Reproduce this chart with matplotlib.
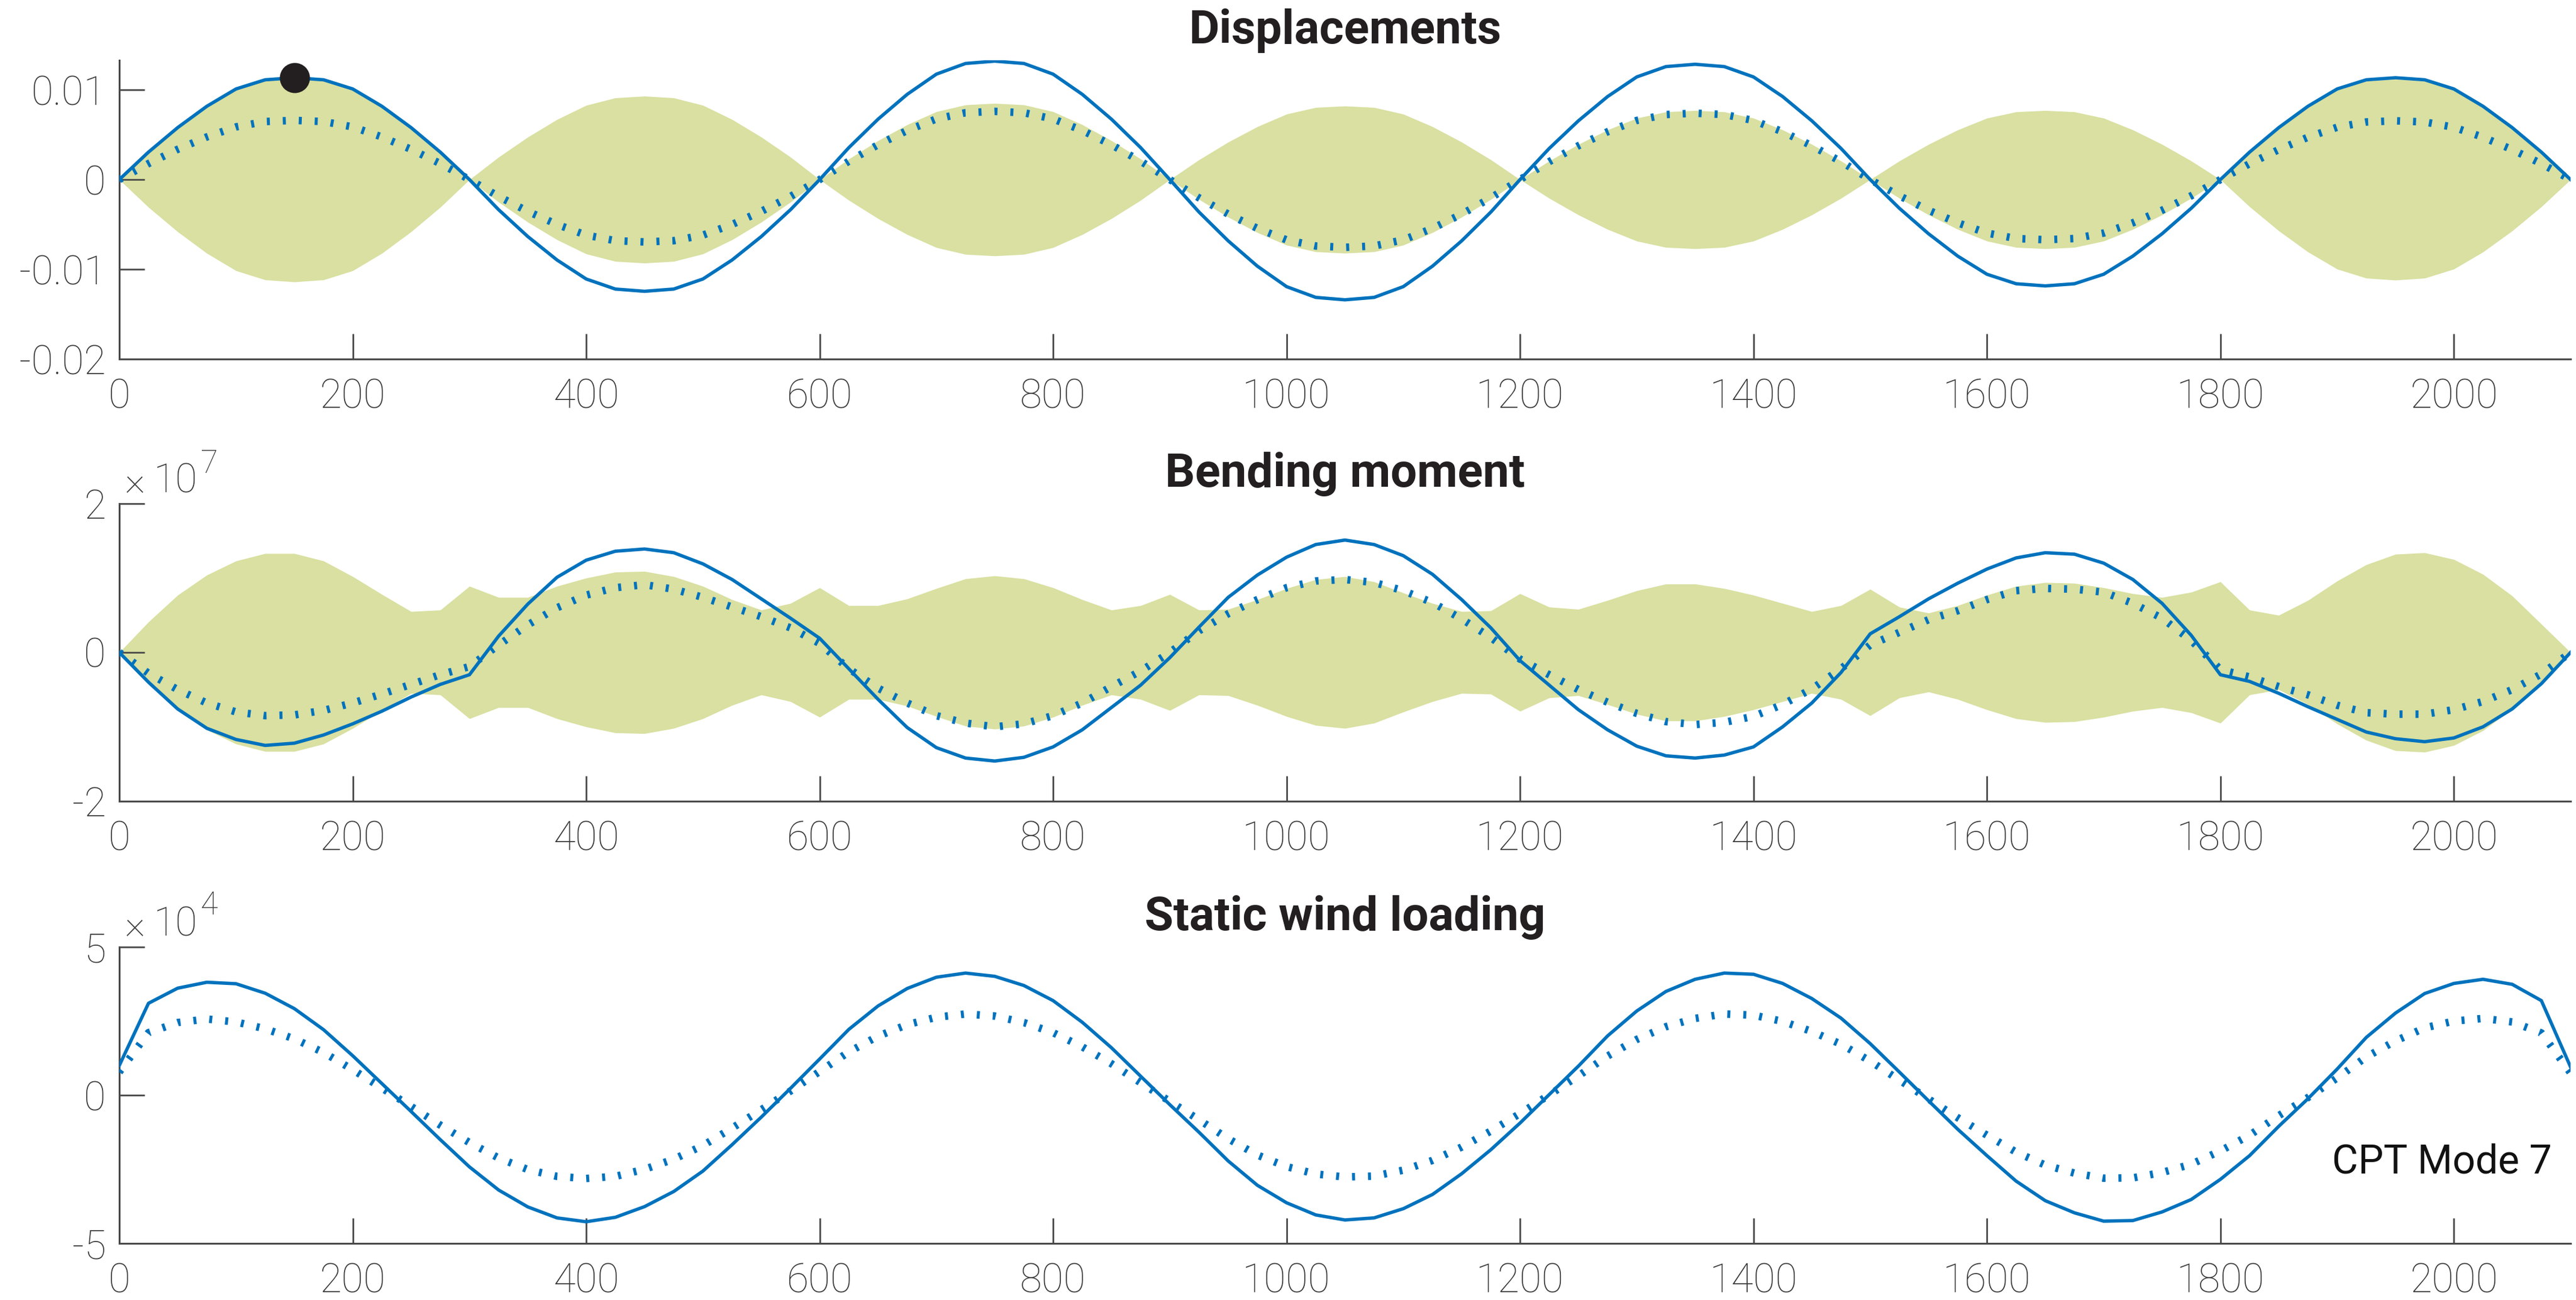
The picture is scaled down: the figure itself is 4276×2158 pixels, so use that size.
import numpy as np
import matplotlib
matplotlib.use("Agg")
import matplotlib.pyplot as plt
from matplotlib import font_manager as fm

plt.rcParams["axes.unicode_minus"] = False

# ---------------------------------------------------------------- data
# Stations along the span (every 25 m)
station = np.arange(0, 2101, 25)

# Displacements (mm): total peak response, static part, RMS envelope
disp_total_mm = [
    0.0, 3.06, 5.79, 8.17, 10.10, 11.12, 11.35, 11.12, 10.10, 8.17, 5.79, 3.06, 0.0,
    -3.36, -6.35, -8.96, -11.08, -12.20, -12.45, -12.20, -11.08, -8.96, -6.35, -3.36, 0.0,
    3.56, 6.73, 9.50, 11.75, 12.94, 13.20, 12.94, 11.75, 9.50, 6.73, 3.56, 0.0,
    -3.62, -6.83, -9.65, -11.93, -13.13, -13.40, -13.13, -11.93, -9.65, -6.83, -3.62, 0.0,
    3.47, 6.55, 9.25, 11.44, 12.59, 12.85, 12.59, 11.44, 9.25, 6.55, 3.47, 0.0,
    -3.20, -6.04, -8.53, -10.55, -11.61, -11.85, -11.61, -10.55, -8.53, -6.04, -3.20, 0.0,
    3.06, 5.79, 8.17, 10.10, 11.12, 11.35, 11.12, 10.10, 8.17, 5.79, 3.06, 0.0,
]
disp_static_mm = [
    0.0, 1.78, 3.37, 4.75, 5.87, 6.47, 6.60, 6.47, 5.87, 4.75, 3.37, 1.78, 0.0,
    -1.88, -3.54, -5.00, -6.19, -6.81, -6.95, -6.81, -6.19, -5.00, -3.54, -1.88, 0.0,
    2.05, 3.88, 5.47, 6.76, 7.45, 7.60, 7.45, 6.76, 5.47, 3.88, 2.05, 0.0,
    -2.04, -3.85, -5.44, -6.72, -7.40, -7.55, -7.40, -6.72, -5.44, -3.85, -2.04, 0.0,
    2.00, 3.77, 5.33, 6.59, 7.25, 7.40, 7.25, 6.59, 5.33, 3.77, 2.00, 0.0,
    -1.81, -3.42, -4.82, -5.96, -6.57, -6.70, -6.57, -5.96, -4.82, -3.42, -1.81, 0.0,
    1.77, 3.34, 4.72, 5.83, 6.42, 6.55, 6.42, 5.83, 4.72, 3.34, 1.77, 0.0,
]
disp_env_mm = [
    0.0, 3.08, 5.81, 8.21, 10.15, 11.17, 11.40, 11.17, 10.15, 8.21, 5.81, 3.08, 0.0,
    2.51, 4.74, 6.70, 8.28, 9.11, 9.30, 9.11, 8.28, 6.70, 4.74, 2.51, 0.0,
    2.30, 4.34, 6.12, 7.57, 8.33, 8.50, 8.33, 7.57, 6.12, 4.34, 2.30, 0.0,
    2.21, 4.18, 5.90, 7.30, 8.04, 8.20, 8.04, 7.30, 5.90, 4.18, 2.21, 0.0,
    2.08, 3.93, 5.54, 6.85, 7.55, 7.70, 7.55, 6.85, 5.54, 3.93, 2.08, 0.0,
    2.08, 3.93, 5.54, 6.85, 7.55, 7.70, 7.55, 6.85, 5.54, 3.93, 2.08, 0.0,
    3.02, 5.71, 8.06, 9.97, 10.98, 11.20, 10.98, 9.97, 8.06, 5.71, 3.02, 0.0,
]

# Bending moment (x 1e7)
moment_total = [
    0.0, -0.40, -0.76, -1.02, -1.17, -1.25, -1.22, -1.11, -0.96, -0.79, -0.60, -0.43, -0.30,
    0.22, 0.65, 1.01, 1.24, 1.36, 1.39, 1.34, 1.19, 0.98, 0.72, 0.46, 0.19,
    -0.22, -0.63, -1.01, -1.28, -1.42, -1.46, -1.41, -1.27, -1.04, -0.74, -0.44, -0.07,
    0.34, 0.74, 1.04, 1.28, 1.45, 1.51, 1.45, 1.30, 1.05, 0.71, 0.33, -0.11,
    -0.44, -0.77, -1.04, -1.26, -1.39, -1.42, -1.38, -1.27, -1.00, -0.68, -0.27, 0.25,
    0.48, 0.72, 0.93, 1.12, 1.27, 1.34, 1.32, 1.20, 0.98, 0.66, 0.23, -0.30,
    -0.39, -0.55, -0.73, -0.90, -1.07, -1.16, -1.20, -1.15, -1.00, -0.76, -0.42, 0.0,
]
moment_static = [
    0.0, -0.28, -0.50, -0.68, -0.80, -0.85, -0.84, -0.78, -0.68, -0.56, -0.43, -0.30, -0.19,
    0.10, 0.37, 0.60, 0.77, 0.87, 0.91, 0.85, 0.74, 0.61, 0.48, 0.33, 0.12,
    -0.22, -0.48, -0.68, -0.85, -0.95, -1.00, -0.96, -0.85, -0.68, -0.46, -0.25, 0.00,
    0.29, 0.52, 0.71, 0.87, 0.96, 0.98, 0.94, 0.83, 0.67, 0.45, 0.20, -0.09,
    -0.30, -0.50, -0.67, -0.82, -0.93, -0.97, -0.94, -0.86, -0.70, -0.49, -0.22, 0.10,
    0.27, 0.44, 0.56, 0.71, 0.83, 0.86, 0.85, 0.81, 0.66, 0.46, 0.16, -0.23,
    -0.33, -0.46, -0.57, -0.71, -0.81, -0.83, -0.83, -0.77, -0.66, -0.50, -0.29, 0.0,
]
moment_env = [
    0.0, 0.41, 0.77, 1.04, 1.23, 1.33, 1.33, 1.23, 1.02, 0.78, 0.55, 0.57, 0.89,
    0.74, 0.74, 0.89, 1.00, 1.08, 1.09, 1.02, 0.89, 0.71, 0.57, 0.66, 0.87,
    0.63, 0.63, 0.72, 0.86, 0.99, 1.03, 0.99, 0.87, 0.71, 0.57, 0.63, 0.78,
    0.57, 0.58, 0.71, 0.86, 0.98, 1.02, 0.95, 0.80, 0.66, 0.55, 0.56, 0.79,
    0.61, 0.58, 0.70, 0.83, 0.92, 0.92, 0.86, 0.77, 0.66, 0.55, 0.63, 0.85,
    0.61, 0.53, 0.63, 0.77, 0.89, 0.94, 0.93, 0.87, 0.79, 0.74, 0.81, 0.95,
    0.57, 0.50, 0.70, 0.96, 1.18, 1.32, 1.34, 1.25, 1.05, 0.76, 0.38, 0.0,
]

# Static wind loading (x 1e4)
wind_total = [
    1.00, 3.10, 3.61, 3.81, 3.76, 3.44, 2.92, 2.21, 1.33, 0.39, -0.55, -1.50, -2.42,
    -3.20, -3.77, -4.14, -4.27, -4.12, -3.76, -3.25, -2.56, -1.67, -0.74, 0.23, 1.22,
    2.22, 3.01, 3.60, 3.98, 4.12, 4.01, 3.70, 3.19, 2.46, 1.60, 0.64, -0.32,
    -1.25, -2.22, -3.04, -3.63, -4.04, -4.21, -4.14, -3.83, -3.35, -2.65, -1.84, -0.94,
    0.02, 0.98, 2.00, 2.84, 3.50, 3.91, 4.12, 4.08, 3.77, 3.26, 2.60, 1.74,
    0.78, -0.19, -1.15, -2.04, -2.90, -3.56, -3.97, -4.25, -4.23, -3.94, -3.52, -2.84,
    -2.04, -1.05, -0.12, 0.88, 1.95, 2.77, 3.43, 3.77, 3.91, 3.74, 3.19, 0.95,
]
wind_static = [
    0.78, 2.11, 2.45, 2.57, 2.47, 2.24, 1.90, 1.44, 0.86, 0.24, -0.38, -1.01, -1.60,
    -2.12, -2.51, -2.74, -2.81, -2.74, -2.50, -2.16, -1.70, -1.11, -0.49, 0.14, 0.80,
    1.46, 1.99, 2.38, 2.63, 2.74, 2.67, 2.45, 2.11, 1.63, 1.06, 0.42, -0.21,
    -0.83, -1.47, -2.02, -2.41, -2.66, -2.76, -2.73, -2.53, -2.20, -1.75, -1.21, -0.62,
    0.01, 0.65, 1.32, 1.88, 2.31, 2.59, 2.74, 2.70, 2.49, 2.15, 1.72, 1.15,
    0.51, -0.13, -0.76, -1.35, -1.92, -2.36, -2.63, -2.80, -2.79, -2.61, -2.33, -1.88,
    -1.35, -0.69, -0.08, 0.58, 1.29, 1.83, 2.27, 2.50, 2.59, 2.47, 2.10, 0.75,
]

marker_station = 150

x_ticks = list(range(0, 2001, 200))
disp_ticks = [-0.02, -0.01, 0, 0.01]
disp_labels = ["-0.02", "-0.01", "0", "0.01"]
moment_ticks = [-2, 0, 2]
wind_ticks = [-5, 0, 5]

titles = ["Displacements", "Bending moment", "Static wind loading"]
mode_label = "CPT Mode 7"

# ---------------------------------------------------------------- fonts
_WEIGHTS = {"thin": 100, "extralight": 200, "ultralight": 200, "light": 300,
            "normal": 400, "regular": 400, "book": 400, "medium": 500,
            "semibold": 600, "demibold": 600, "bold": 700, "extrabold": 800,
            "heavy": 900, "black": 900}


def _weight(v):
    if isinstance(v, (int, float)):
        return int(v)
    return _WEIGHTS.get(str(v).lower(), 400)


def _has(name, pred=lambda f: True):
    return any(f.name == name and pred(f) for f in fm.fontManager.ttflist)


LIGHT = next((n for n in ["Roboto", "Lato", "Open Sans", "Inter", "Noto Sans"]
              if _has(n, lambda f: _weight(f.weight) <= 300)), "DejaVu Sans")
BOLD = next((n for n in ["Roboto", "Liberation Sans", "DejaVu Sans"] if _has(n)),
            "DejaVu Sans")

light = dict(family=LIGHT, weight="light")

# ---------------------------------------------------------------- style
BLUE = "#0072BD"
FILL = "#d9e0a1"
AXIS = "#4a4a4a"
LABEL = "#3a3a3a"
INK = "#231f20"

W, H = 4276, 2158
DPI = 200
fig = plt.figure(figsize=(W / DPI, H / DPI), dpi=DPI)
fig.patch.set_facecolor("white")


def axes_px(left, top, right, bottom):
    return fig.add_axes([left / W, 1 - bottom / H, (right - left) / W, (bottom - top) / H])


ax1 = axes_px(198, 100, 4267, 596)
ax2 = axes_px(198, 836, 4267, 1330)
ax3 = axes_px(198, 1572, 4267, 2064)

solid_kw = dict(color=BLUE, lw=2.0, solid_joinstyle="round", zorder=3)
dotted_kw = dict(color=BLUE, lw=4.5, ls=(0, (0.4, 1.72)), dash_capstyle="butt", zorder=3)

# Displacements
d_tot = np.array(disp_total_mm) * 1e-3
d_sta = np.array(disp_static_mm) * 1e-3
d_env = np.array(disp_env_mm) * 1e-3
ax1.fill_between(station, -d_env, d_env, color=FILL, lw=0, zorder=1)
ax1.plot(station, d_sta, **dotted_kw)
ax1.plot(station, d_tot, **solid_kw)
mk = station == marker_station
ax1.plot(station[mk], d_tot[mk], "o", ms=17, color=INK, mec=INK, zorder=5)
ax1.set_ylim(-0.02, 0.0133)
ax1.set_yticks(disp_ticks, disp_labels)

# Bending moment
m_env = np.array(moment_env)
ax2.fill_between(station, -m_env, m_env, color=FILL, lw=0, zorder=1)
ax2.plot(station, moment_static, **dotted_kw)
ax2.plot(station, moment_total, **solid_kw)
ax2.set_ylim(-2, 2)
ax2.set_yticks(moment_ticks, [str(t) for t in moment_ticks])

# Static wind loading
ax3.plot(station, wind_static, **dotted_kw)
ax3.plot(station, wind_total, **solid_kw)
ax3.set_ylim(-5, 5)
ax3.set_yticks(wind_ticks, [str(t) for t in wind_ticks])
ax3.text(2084, -2.63, mode_label, ha="right", va="baseline", fontsize=24,
         color="#111111", family=LIGHT, weight="normal")

for ax, title in zip((ax1, ax2, ax3), titles):
    ax.set_xlim(0, 2100)
    ax.set_xticks(x_ticks, [str(t) for t in x_ticks])
    for side in ("top", "right"):
        ax.spines[side].set_visible(False)
    for side in ("left", "bottom"):
        ax.spines[side].set_color(AXIS)
        ax.spines[side].set_linewidth(1.1)
    ax.tick_params(direction="in", length=15, width=1.0, color=AXIS,
                   labelcolor=LABEL, labelsize=24)
    ax.tick_params(axis="x", pad=11.5)
    ax.tick_params(axis="y", pad=8)
    for lab in ax.get_xticklabels() + ax.get_yticklabels():
        lab.set_fontfamily(LIGHT)
        lab.set_fontweight("light")
    ax.set_title(title, fontsize=28, fontweight="bold", family=BOLD,
                 color=INK, pad=10)
    ax.set_facecolor("none")

# Scale factors above the y axes
for base_y, sup_y, power in ((818, 785, "7"), (1554, 1518, "4")):
    fig.text(207 / W, 1 - base_y / H, "\u00d7", fontsize=24, color=LABEL,
             ha="left", va="baseline", **light)
    fig.text(255 / W, 1 - base_y / H, "10", fontsize=24, color=LABEL,
             ha="left", va="baseline", **light)
    fig.text(333 / W, 1 - sup_y / H, power, fontsize=19, color=LABEL,
             ha="left", va="baseline", **light)

fig.savefig("out.png", dpi=DPI, facecolor="white")
